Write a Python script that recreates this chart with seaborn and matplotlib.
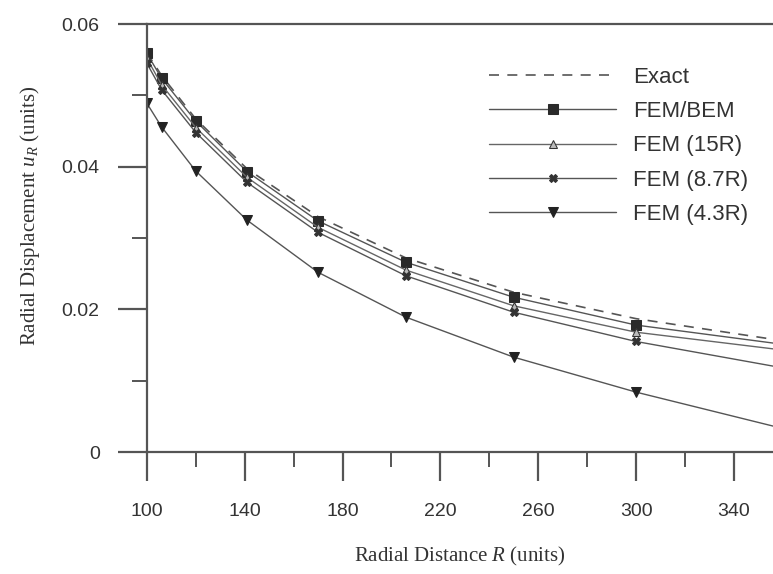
import numpy as np
import pandas as pd
import matplotlib
matplotlib.use("Agg")
import matplotlib.pyplot as plt
import seaborn as sns
from matplotlib.ticker import MultipleLocator

# --- data ---
radius = [100, 106, 120, 141, 170, 206, 250, 300, 360]
exact = [0.0560, 0.0528, 0.0467, 0.0397, 0.0330, 0.0272, 0.0224, 0.0187, 0.0156]
fem_bem = [0.0559, 0.0524, 0.0464, 0.0393, 0.0324, 0.0266, 0.0217, 0.0178, 0.0151]
fem_15r = [0.0552, 0.0515, 0.0455, 0.0385, 0.0315, 0.0255, 0.0205, 0.0168, 0.0143]
fem_87r = [0.0545, 0.0508, 0.0448, 0.0378, 0.0308, 0.0247, 0.0196, 0.0155, 0.0118]
fem_43r = [0.0489, 0.0456, 0.0394, 0.0325, 0.0252, 0.0189, 0.0133, 0.0084, 0.0033]

x_ticks = [100, 140, 180, 220, 260, 300, 340]
y_ticks = [0, 0.02, 0.04, 0.06]
y_tick_labels = ["0", "0.02", "0.04", "0.06"]

sns.set_style("ticks")
plt.rcParams["font.family"] = ["Liberation Sans", "DejaVu Sans"]
plt.rcParams["mathtext.fontset"] = "custom"
plt.rcParams["mathtext.it"] = "Liberation Serif:italic"
plt.rcParams["mathtext.rm"] = "Liberation Serif"

fig = plt.figure(figsize=(7.73, 5.74), dpi=100)
ax = fig.add_axes([0.190, 0.2125, 0.810, 0.7455])

df = pd.DataFrame({"R": radius, "Exact": exact, "FEM/BEM": fem_bem,
                   "FEM (15R)": fem_15r, "FEM (8.7R)": fem_87r, "FEM (4.3R)": fem_43r})

sns.lineplot(data=df, x="R", y="Exact", ax=ax, color="#555555", lw=1.2,
             linestyle=(0, (6, 5)), label="Exact")
sns.lineplot(data=df, x="R", y="FEM/BEM", ax=ax, color="#555555", lw=1.0,
             marker="s", markersize=7, markerfacecolor="#2a2a2a",
             markeredgecolor="#2a2a2a", label="FEM/BEM")
sns.lineplot(data=df, x="R", y="FEM (15R)", ax=ax, color="#666666", lw=1.0,
             marker="^", markersize=6, markerfacecolor="#bbbbbb",
             markeredgecolor="#333333", label="FEM (15R)")
sns.lineplot(data=df, x="R", y="FEM (8.7R)", ax=ax, color="#555555", lw=1.0,
             marker="X", markersize=6, markerfacecolor="#333333",
             markeredgecolor="#333333", label="FEM (8.7R)")
sns.lineplot(data=df, x="R", y="FEM (4.3R)", ax=ax, color="#555555", lw=1.0,
             marker="v", markersize=7, markerfacecolor="#222222",
             markeredgecolor="#222222", label="FEM (4.3R)")

ax.set_xlim(100, 356)
ax.set_ylim(0, 0.06)
ax.set_xticks(x_ticks)
ax.set_yticks(y_ticks)
ax.set_yticklabels(y_tick_labels)
ax.xaxis.set_minor_locator(MultipleLocator(20))
ax.yaxis.set_minor_locator(MultipleLocator(0.01))

ax.tick_params(axis="both", which="major", direction="out", length=21, width=1.6,
               color="#555555", labelsize=14, labelcolor="#333333", pad=13)
ax.tick_params(axis="both", which="minor", direction="out", length=11, width=1.4,
               color="#555555")
ax.tick_params(axis="x", which="major", pad=16)

for side in ["left", "bottom", "top"]:
    ax.spines[side].set_color("#555555")
    ax.spines[side].set_linewidth(1.6)
ax.spines["right"].set_visible(False)

ax.set_xlabel("Radial Distance $R$ (units)", family="Liberation Serif",
              fontsize=15, color="#333333", labelpad=18)
ax.set_ylabel("Radial Displacement $u_R$ (units)", family="Liberation Serif",
              fontsize=15, color="#333333")
ax.yaxis.set_label_coords(-0.168, 0.551)

leg = ax.legend(loc="upper left", bbox_to_anchor=(0.514, 0.947), frameon=False,
                fontsize=16, handlelength=5.75, labelspacing=0.6,
                handletextpad=0.75, labelcolor="#333333")

fig.savefig("out.png", dpi=100)
